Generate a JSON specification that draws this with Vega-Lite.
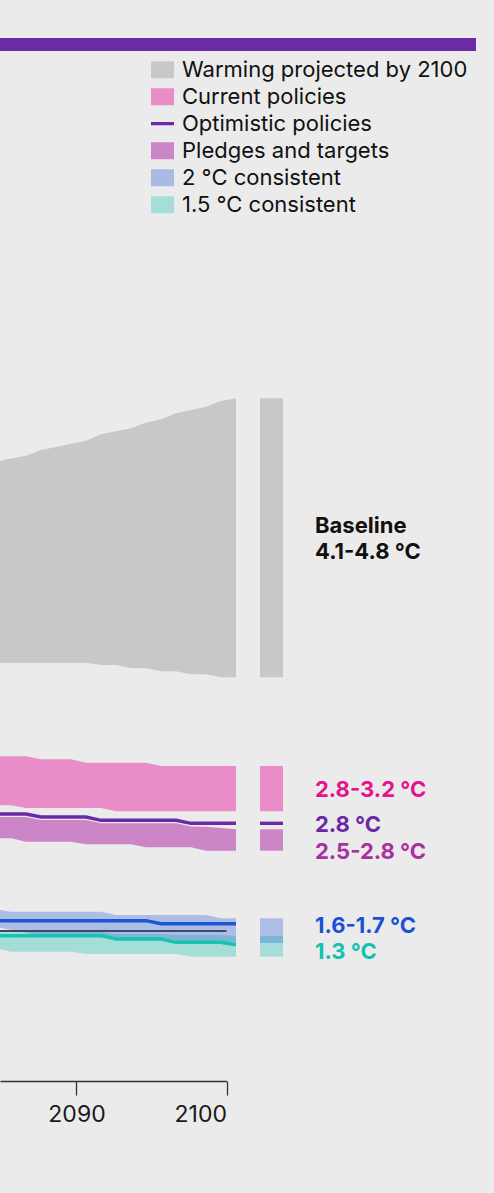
{
  "$schema": "https://vega.github.io/schema/vega-lite/v6.json",
  "width": 226.5,
  "height": 1081,
  "autosize": {"type": "none"},
  "padding": {"left": 0, "top": 0, "right": 267.5, "bottom": 112},
  "background": "#ebebeb",
  "config": {"view": {"stroke": null}, "font": "Inter"},
  "datasets": {
    "bands": [
      {"series": "Warming projected by 2100", "year": 2084, "hi": 6.19, "lo": 4.183},
      {"series": "Warming projected by 2100", "year": 2085, "hi": 6.224, "lo": 4.183},
      {"series": "Warming projected by 2100", "year": 2086, "hi": 6.253, "lo": 4.183},
      {"series": "Warming projected by 2100", "year": 2087, "hi": 6.31, "lo": 4.183},
      {"series": "Warming projected by 2100", "year": 2088, "hi": 6.341, "lo": 4.183},
      {"series": "Warming projected by 2100", "year": 2089, "hi": 6.372, "lo": 4.183},
      {"series": "Warming projected by 2100", "year": 2090, "hi": 6.403, "lo": 4.183},
      {"series": "Warming projected by 2100", "year": 2091, "hi": 6.467, "lo": 4.16},
      {"series": "Warming projected by 2100", "year": 2092, "hi": 6.497, "lo": 4.16},
      {"series": "Warming projected by 2100", "year": 2093, "hi": 6.527, "lo": 4.127},
      {"series": "Warming projected by 2100", "year": 2094, "hi": 6.583, "lo": 4.127},
      {"series": "Warming projected by 2100", "year": 2095, "hi": 6.617, "lo": 4.097},
      {"series": "Warming projected by 2100", "year": 2096, "hi": 6.677, "lo": 4.097},
      {"series": "Warming projected by 2100", "year": 2097, "hi": 6.71, "lo": 4.067},
      {"series": "Warming projected by 2100", "year": 2098, "hi": 6.743, "lo": 4.067},
      {"series": "Warming projected by 2100", "year": 2099, "hi": 6.8, "lo": 4.037},
      {"series": "Warming projected by 2100", "year": 2100, "hi": 6.827, "lo": 4.037},
      {"series": "Current policies", "year": 2084, "hi": 3.247, "lo": 2.757},
      {"series": "Current policies", "year": 2085, "hi": 3.247, "lo": 2.757},
      {"series": "Current policies", "year": 2086, "hi": 3.247, "lo": 2.73},
      {"series": "Current policies", "year": 2087, "hi": 3.217, "lo": 2.73},
      {"series": "Current policies", "year": 2088, "hi": 3.217, "lo": 2.73},
      {"series": "Current policies", "year": 2089, "hi": 3.217, "lo": 2.73},
      {"series": "Current policies", "year": 2090, "hi": 3.183, "lo": 2.73},
      {"series": "Current policies", "year": 2091, "hi": 3.183, "lo": 2.73},
      {"series": "Current policies", "year": 2092, "hi": 3.183, "lo": 2.697},
      {"series": "Current policies", "year": 2093, "hi": 3.183, "lo": 2.697},
      {"series": "Current policies", "year": 2094, "hi": 3.183, "lo": 2.697},
      {"series": "Current policies", "year": 2095, "hi": 3.15, "lo": 2.697},
      {"series": "Current policies", "year": 2096, "hi": 3.15, "lo": 2.697},
      {"series": "Current policies", "year": 2097, "hi": 3.15, "lo": 2.697},
      {"series": "Current policies", "year": 2098, "hi": 3.15, "lo": 2.697},
      {"series": "Current policies", "year": 2099, "hi": 3.15, "lo": 2.697},
      {"series": "Current policies", "year": 2100, "hi": 3.15, "lo": 2.697},
      {"series": "Pledges and targets", "year": 2084, "hi": 2.64, "lo": 2.427},
      {"series": "Pledges and targets", "year": 2085, "hi": 2.64, "lo": 2.427},
      {"series": "Pledges and targets", "year": 2086, "hi": 2.64, "lo": 2.393},
      {"series": "Pledges and targets", "year": 2087, "hi": 2.61, "lo": 2.393},
      {"series": "Pledges and targets", "year": 2088, "hi": 2.61, "lo": 2.393},
      {"series": "Pledges and targets", "year": 2089, "hi": 2.61, "lo": 2.393},
      {"series": "Pledges and targets", "year": 2090, "hi": 2.61, "lo": 2.367},
      {"series": "Pledges and targets", "year": 2091, "hi": 2.577, "lo": 2.367},
      {"series": "Pledges and targets", "year": 2092, "hi": 2.577, "lo": 2.367},
      {"series": "Pledges and targets", "year": 2093, "hi": 2.577, "lo": 2.367},
      {"series": "Pledges and targets", "year": 2094, "hi": 2.577, "lo": 2.337},
      {"series": "Pledges and targets", "year": 2095, "hi": 2.577, "lo": 2.337},
      {"series": "Pledges and targets", "year": 2096, "hi": 2.577, "lo": 2.337},
      {"series": "Pledges and targets", "year": 2097, "hi": 2.545, "lo": 2.337},
      {"series": "Pledges and targets", "year": 2098, "hi": 2.543, "lo": 2.303},
      {"series": "Pledges and targets", "year": 2099, "hi": 2.53, "lo": 2.303},
      {"series": "Pledges and targets", "year": 2100, "hi": 2.517, "lo": 2.303},
      {"series": "2 °C consistent", "year": 2084, "hi": 1.715, "lo": 1.54},
      {"series": "2 °C consistent", "year": 2085, "hi": 1.693, "lo": 1.51},
      {"series": "2 °C consistent", "year": 2086, "hi": 1.693, "lo": 1.48},
      {"series": "2 °C consistent", "year": 2087, "hi": 1.693, "lo": 1.46},
      {"series": "2 °C consistent", "year": 2088, "hi": 1.693, "lo": 1.46},
      {"series": "2 °C consistent", "year": 2089, "hi": 1.693, "lo": 1.46},
      {"series": "2 °C consistent", "year": 2090, "hi": 1.693, "lo": 1.46},
      {"series": "2 °C consistent", "year": 2091, "hi": 1.693, "lo": 1.46},
      {"series": "2 °C consistent", "year": 2092, "hi": 1.66, "lo": 1.43},
      {"series": "2 °C consistent", "year": 2093, "hi": 1.66, "lo": 1.43},
      {"series": "2 °C consistent", "year": 2094, "hi": 1.66, "lo": 1.43},
      {"series": "2 °C consistent", "year": 2095, "hi": 1.66, "lo": 1.43},
      {"series": "2 °C consistent", "year": 2096, "hi": 1.66, "lo": 1.4},
      {"series": "2 °C consistent", "year": 2097, "hi": 1.66, "lo": 1.4},
      {"series": "2 °C consistent", "year": 2098, "hi": 1.66, "lo": 1.4},
      {"series": "2 °C consistent", "year": 2099, "hi": 1.627, "lo": 1.4},
      {"series": "2 °C consistent", "year": 2100, "hi": 1.627, "lo": 1.38},
      {"series": "1.5 °C consistent", "year": 2084, "hi": 1.49, "lo": 1.325},
      {"series": "1.5 °C consistent", "year": 2085, "hi": 1.49, "lo": 1.293},
      {"series": "1.5 °C consistent", "year": 2086, "hi": 1.49, "lo": 1.293},
      {"series": "1.5 °C consistent", "year": 2087, "hi": 1.49, "lo": 1.293},
      {"series": "1.5 °C consistent", "year": 2088, "hi": 1.49, "lo": 1.293},
      {"series": "1.5 °C consistent", "year": 2089, "hi": 1.49, "lo": 1.293},
      {"series": "1.5 °C consistent", "year": 2090, "hi": 1.49, "lo": 1.27},
      {"series": "1.5 °C consistent", "year": 2091, "hi": 1.49, "lo": 1.27},
      {"series": "1.5 °C consistent", "year": 2092, "hi": 1.47, "lo": 1.27},
      {"series": "1.5 °C consistent", "year": 2093, "hi": 1.47, "lo": 1.27},
      {"series": "1.5 °C consistent", "year": 2094, "hi": 1.47, "lo": 1.27},
      {"series": "1.5 °C consistent", "year": 2095, "hi": 1.47, "lo": 1.27},
      {"series": "1.5 °C consistent", "year": 2096, "hi": 1.46, "lo": 1.27},
      {"series": "1.5 °C consistent", "year": 2097, "hi": 1.46, "lo": 1.243},
      {"series": "1.5 °C consistent", "year": 2098, "hi": 1.46, "lo": 1.243},
      {"series": "1.5 °C consistent", "year": 2099, "hi": 1.46, "lo": 1.243},
      {"series": "1.5 °C consistent", "year": 2100, "hi": 1.45, "lo": 1.243}
    ],
    "lines": [
      {"series": "Optimistic policies", "year": 2084, "t": 2.67},
      {"series": "Optimistic policies", "year": 2085, "t": 2.67},
      {"series": "Optimistic policies", "year": 2086, "t": 2.67},
      {"series": "Optimistic policies", "year": 2087, "t": 2.64},
      {"series": "Optimistic policies", "year": 2088, "t": 2.64},
      {"series": "Optimistic policies", "year": 2089, "t": 2.64},
      {"series": "Optimistic policies", "year": 2090, "t": 2.64},
      {"series": "Optimistic policies", "year": 2091, "t": 2.607},
      {"series": "Optimistic policies", "year": 2092, "t": 2.607},
      {"series": "Optimistic policies", "year": 2093, "t": 2.607},
      {"series": "Optimistic policies", "year": 2094, "t": 2.607},
      {"series": "Optimistic policies", "year": 2095, "t": 2.607},
      {"series": "Optimistic policies", "year": 2096, "t": 2.607},
      {"series": "Optimistic policies", "year": 2097, "t": 2.577},
      {"series": "Optimistic policies", "year": 2098, "t": 2.577},
      {"series": "Optimistic policies", "year": 2099, "t": 2.577},
      {"series": "Optimistic policies", "year": 2100, "t": 2.577},
      {"series": "2 °C median", "year": 2084, "t": 1.603},
      {"series": "2 °C median", "year": 2085, "t": 1.603},
      {"series": "2 °C median", "year": 2086, "t": 1.603},
      {"series": "2 °C median", "year": 2087, "t": 1.603},
      {"series": "2 °C median", "year": 2088, "t": 1.603},
      {"series": "2 °C median", "year": 2089, "t": 1.603},
      {"series": "2 °C median", "year": 2090, "t": 1.603},
      {"series": "2 °C median", "year": 2091, "t": 1.603},
      {"series": "2 °C median", "year": 2092, "t": 1.603},
      {"series": "2 °C median", "year": 2093, "t": 1.603},
      {"series": "2 °C median", "year": 2094, "t": 1.603},
      {"series": "2 °C median", "year": 2095, "t": 1.573},
      {"series": "2 °C median", "year": 2096, "t": 1.573},
      {"series": "2 °C median", "year": 2097, "t": 1.573},
      {"series": "2 °C median", "year": 2098, "t": 1.573},
      {"series": "2 °C median", "year": 2099, "t": 1.573},
      {"series": "2 °C median", "year": 2100, "t": 1.573},
      {"series": "1.5 °C median", "year": 2084, "t": 1.453},
      {"series": "1.5 °C median", "year": 2085, "t": 1.453},
      {"series": "1.5 °C median", "year": 2086, "t": 1.453},
      {"series": "1.5 °C median", "year": 2087, "t": 1.453},
      {"series": "1.5 °C median", "year": 2088, "t": 1.453},
      {"series": "1.5 °C median", "year": 2089, "t": 1.453},
      {"series": "1.5 °C median", "year": 2090, "t": 1.453},
      {"series": "1.5 °C median", "year": 2091, "t": 1.453},
      {"series": "1.5 °C median", "year": 2092, "t": 1.42},
      {"series": "1.5 °C median", "year": 2093, "t": 1.42},
      {"series": "1.5 °C median", "year": 2094, "t": 1.42},
      {"series": "1.5 °C median", "year": 2095, "t": 1.42},
      {"series": "1.5 °C median", "year": 2096, "t": 1.387},
      {"series": "1.5 °C median", "year": 2097, "t": 1.387},
      {"series": "1.5 °C median", "year": 2098, "t": 1.387},
      {"series": "1.5 °C median", "year": 2099, "t": 1.387},
      {"series": "1.5 °C median", "year": 2100, "t": 1.363}
    ],
    "refs": [
      {"name": "1.5 °C limit", "start": 2080, "end": 2100, "t": 1.5}
    ],
    "labels": [
      {"series": "Warming projected by 2100", "year": 2100, "label": ["Baseline", "4.1-4.8 °C"], "t": 5.48},
      {"series": "Current policies", "year": 2100, "label": "2.8-3.2 °C", "t": 2.84},
      {"series": "Optimistic policies", "year": 2100, "label": "2.8 °C", "t": 2.49},
      {"series": "Pledges and targets", "year": 2100, "label": "2.5-2.8 °C", "t": 2.225},
      {"series": "2 °C consistent", "year": 2100, "label": "1.6-1.7 °C", "t": 1.485},
      {"series": "1.5 °C consistent", "year": 2100, "label": "1.3 °C", "t": 1.225}
    ]
  },
  "layer": [
    {
      "data": {"name": "bands"},
      "transform": [{"filter": "datum.series !== '2 °C consistent'"}],
      "mark": {"type": "area", "opacity": 1, "xOffset": 9.5},
      "encoding": {
        "x": {"field": "year", "type": "quantitative", "title": null,
              "scale": {"domain": [2084.9, 2100], "nice": false, "zero": false},
              "axis": {"values": [2090, 2100], "format": "d", "grid": false, "domainColor": "#333333", "domainWidth": 1.3, "tickColor": "#333333", "tickWidth": 1.3, "tickSize": 14, "labelFontSize": 23, "labelFont": "Inter", "labelColor": "#1a1a1a", "labelPadding": 8}},
        "y": {"field": "hi", "type": "quantitative", "axis": null, "title": null,
              "scale": {"domain": [0, 10.81], "nice": false, "zero": false}},
        "y2": {"field": "lo"},
        "color": {
          "field": "series", "type": "nominal",
          "scale": {
            "domain": ["Warming projected by 2100", "Current policies", "Optimistic policies", "Pledges and targets", "2 °C consistent", "1.5 °C consistent"],
            "range": ["#c8c8c8", "#e88dc7", "#6a2aa8", "#cc85c6", "#aabae3", "#a5ded9"]
          },
          "legend": {
            "orient": "none", "legendX": 151, "legendY": 56.5, "title": null,
            "padding": 0, "offset": 0, "rowPadding": 0, "clipHeight": 26.3,
            "labelFontSize": 22, "labelFont": "Inter", "labelColor": "#111111", "labelOffset": 8, "labelLimit": 400,
            "symbolType": "M-1,-0.74H1V0.74H-1Z",
            "symbolSize": 529, "symbolOpacity": 1, "symbolStrokeWidth": 0,
            "encode": {"symbols": {"update": {
              "shape": {"signal": "datum.value === 'Optimistic policies' ? 'M-1,-0.14H1V0.14H-1Z' : 'M-1,-0.74H1V0.74H-1Z'"},
              "fill": {"signal": "scale('color', datum.value)"},
              "stroke": {"value": "transparent"},
              "opacity": {"value": 1}
            }}}
          }
        }
      }
    },
    {
      "data": {"name": "bands"},
      "transform": [{"filter": "datum.series === '2 °C consistent'"}],
      "mark": {"type": "area", "color": "#1a55d8", "opacity": 0.3, "xOffset": 9.5},
      "encoding": {
        "x": {"field": "year", "type": "quantitative", "title": null},
        "y": {"field": "hi", "type": "quantitative", "axis": null, "title": null},
        "y2": {"field": "lo"}
      }
    },
    {
      "data": {"name": "bands"},
      "transform": [{"filter": "datum.year === 2100 && datum.series !== '2 °C consistent'"}],
      "mark": {"type": "rect", "opacity": 1, "xOffset": 33.5, "x2Offset": 56.5},
      "encoding": {
        "x": {"field": "year", "type": "quantitative", "title": null},
        "x2": {"field": "year"},
        "y": {"field": "hi", "type": "quantitative", "axis": null, "title": null},
        "y2": {"field": "lo"},
        "color": {"field": "series", "type": "nominal"}
      }
    },
    {
      "data": {"name": "bands"},
      "transform": [{"filter": "datum.year === 2100 && datum.series === '2 °C consistent'"}],
      "mark": {"type": "rect", "color": "#1a55d8", "opacity": 0.3, "xOffset": 33.5, "x2Offset": 56.5},
      "encoding": {
        "x": {"field": "year", "type": "quantitative", "title": null},
        "x2": {"field": "year"},
        "y": {"field": "hi", "type": "quantitative", "axis": null, "title": null},
        "y2": {"field": "lo"}
      }
    },
    {
      "data": {"name": "refs"},
      "mark": {"type": "rule", "color": "#3d4966", "strokeWidth": 2},
      "encoding": {
        "x": {"field": "start", "type": "quantitative", "title": null},
        "x2": {"field": "end"},
        "y": {"field": "t", "type": "quantitative", "axis": null, "title": null}
      }
    },
    {
      "data": {"name": "lines"},
      "mark": {"type": "line", "strokeWidth": 3.4, "xOffset": 9.5},
      "encoding": {
        "x": {"field": "year", "type": "quantitative", "title": null},
        "y": {"field": "t", "type": "quantitative", "axis": null, "title": null},
        "stroke": {
          "field": "series", "type": "nominal", "legend": null,
          "scale": {"domain": ["Optimistic policies", "2 °C median", "1.5 °C median"], "range": ["#6a2aa8", "#1a55d8", "#16c4b2"]}
        }
      }
    },
    {
      "data": {"name": "lines"},
      "transform": [{"filter": "datum.year === 2100 && datum.series === 'Optimistic policies'"}],
      "mark": {"type": "rule", "color": "#6a2aa8", "strokeWidth": 3.4, "xOffset": 33.5, "x2Offset": 56.5},
      "encoding": {
        "x": {"field": "year", "type": "quantitative", "title": null},
        "x2": {"field": "year"},
        "y": {"field": "t", "type": "quantitative", "axis": null, "title": null}
      }
    },
    {
      "data": {"name": "labels"},
      "mark": {"type": "text", "align": "left", "baseline": "alphabetic", "font": "Inter", "fontWeight": "bold", "fontSize": 22, "lineHeight": 26, "xOffset": 88.5},
      "encoding": {
        "x": {"field": "year", "type": "quantitative", "title": null},
        "y": {"field": "t", "type": "quantitative", "axis": null, "title": null},
        "text": {"field": "label"},
        "fill": {
          "field": "series", "type": "nominal", "legend": null,
          "scale": {
            "domain": ["Warming projected by 2100", "Current policies", "Optimistic policies", "Pledges and targets", "2 °C consistent", "1.5 °C consistent"],
            "range": ["#111111", "#e5148b", "#6a2aa8", "#aa2fa2", "#1b50d6", "#14c1b1"]
          }
        }
      }
    },
    {
      "data": {"values": [{}]},
      "mark": {"type": "rect", "color": "#6b2aa8"},
      "encoding": {
        "x": {"datum": 2084.9},
        "x2": {"datum": 2116.63},
        "y": {"datum": 10.43},
        "y2": {"datum": 10.3}
      }
    }
  ]
}
